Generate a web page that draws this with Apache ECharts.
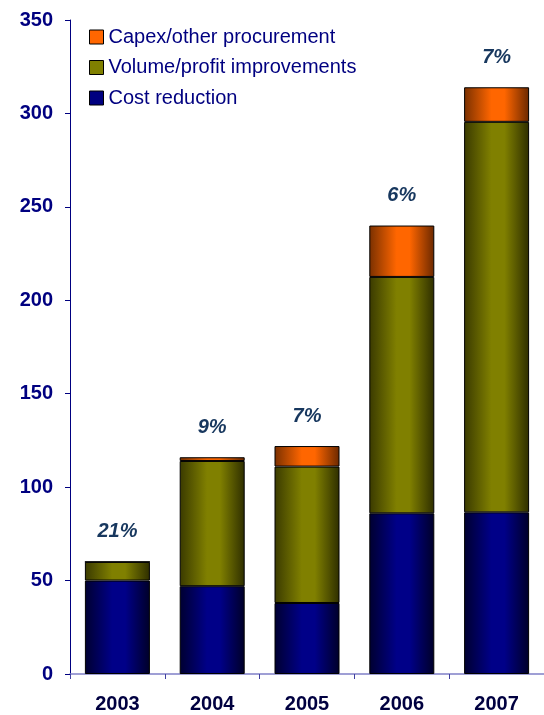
<!DOCTYPE html>
<html>
<head>
<meta charset="utf-8">
<script src="https://cdn.jsdelivr.net/npm/echarts@6/dist/echarts.min.js"></script>
<style>
  html, body { margin: 0; padding: 0; background: #ffffff; }
  #chart { width: 544px; height: 715px; }
</style>
</head>
<body>
<div id="chart"></div>
<script>
// Procurement savings by year, stacked by source
const years = ['2003', '2004', '2005', '2006', '2007'];
const costReduction = [50, 47, 38, 86, 86.5];
const volumeProfit = [10, 67, 73, 126.5, 209];
const capexOther = [0, 2, 11, 27.5, 18.5];
const shareLabels = ['21%', '9%', '7%', '6%', '7%'];
const yTicks = [0, 50, 100, 150, 200, 250, 300, 350];

const totals = years.map((_, i) => costReduction[i] + volumeProfit[i] + capexOther[i]);

// Cylinder-like horizontal shading: dark edges, bright band left of centre
function shade(dark, mid, right) {
  return new echarts.graphic.LinearGradient(0, 0, 1, 0, [
    { offset: 0, color: dark },
    { offset: 0.42, color: mid },
    { offset: 0.62, color: mid },
    { offset: 1, color: right }
  ]);
}

const navy = '#000080';
const font = 'Liberation Sans, Arial, sans-serif';

const chart = echarts.init(document.getElementById('chart'), null, { renderer: 'canvas' });

const barCommon = {
  type: 'bar',
  stack: 'total',
  barWidth: 65
};

chart.setOption({
  animation: false,
  backgroundColor: '#ffffff',
  grid: { left: 70, right: -6, top: 20, bottom: 41, containLabel: false },
  legend: {
    orient: 'vertical',
    left: 89,
    top: 27,
    padding: 0,
    itemWidth: 14,
    itemHeight: 14,
    itemGap: 10.5,
    icon: 'rect',
    textStyle: { fontFamily: font, fontSize: 20, color: navy, lineHeight: 20 },
    data: [
      { name: 'Capex/other procurement', itemStyle: { color: '#FF6600', borderColor: '#000', borderWidth: 1 } },
      { name: 'Volume/profit improvements', itemStyle: { color: '#808000', borderColor: '#000', borderWidth: 1 } },
      { name: 'Cost reduction', itemStyle: { color: '#000080', borderColor: '#000', borderWidth: 1 } }
    ]
  },
  xAxis: {
    type: 'category',
    data: years,
    axisLine: { lineStyle: { color: '#8080C8', width: 1.5 } },
    axisTick: { show: true, lineStyle: { color: '#4040A0' }, length: 5 },
    axisLabel: { fontFamily: font, fontWeight: 'bold', fontSize: 20, color: '#000040', margin: 20 }
  },
  yAxis: {
    type: 'value',
    min: yTicks[0],
    max: yTicks[yTicks.length - 1],
    interval: 50,
    splitLine: { show: false },
    axisLine: { show: true, lineStyle: { color: navy, width: 1 } },
    axisTick: { show: true, inside: false, length: 5, lineStyle: { color: navy } },
    axisLabel: { fontFamily: font, fontWeight: 'bold', fontSize: 20, color: navy, margin: 17 }
  },
  series: [
    Object.assign({}, barCommon, {
      name: 'Cost reduction',
      data: costReduction,
      itemStyle: { borderColor: '#000', borderWidth: 1, color: shade('#000030', '#000088', '#000028') }
    }),
    Object.assign({}, barCommon, {
      name: 'Volume/profit improvements',
      data: volumeProfit,
      itemStyle: { borderColor: '#000', borderWidth: 1, color: shade('#3a3a00', '#808000', '#2e2e00') }
    }),
    Object.assign({}, barCommon, {
      name: 'Capex/other procurement',
      data: capexOther,
      itemStyle: { borderColor: '#000', borderWidth: 1, color: shade('#7a3000', '#FF6600', '#6a2800') }
    }),
    {
      name: 'share',
      type: 'scatter',
      data: totals,
      symbolSize: 0,
      silent: true,
      itemStyle: { opacity: 1, color: '#17375E' },
      label: {
        show: true,
        position: 'top',
        distance: 20,
        formatter: p => shareLabels[p.dataIndex],
        fontFamily: font,
        fontSize: 20,
        fontWeight: 'bold',
        fontStyle: 'italic',
        color: '#17375E',
        opacity: 1
      }
    }
  ]
});
</script>
</body>
</html>
